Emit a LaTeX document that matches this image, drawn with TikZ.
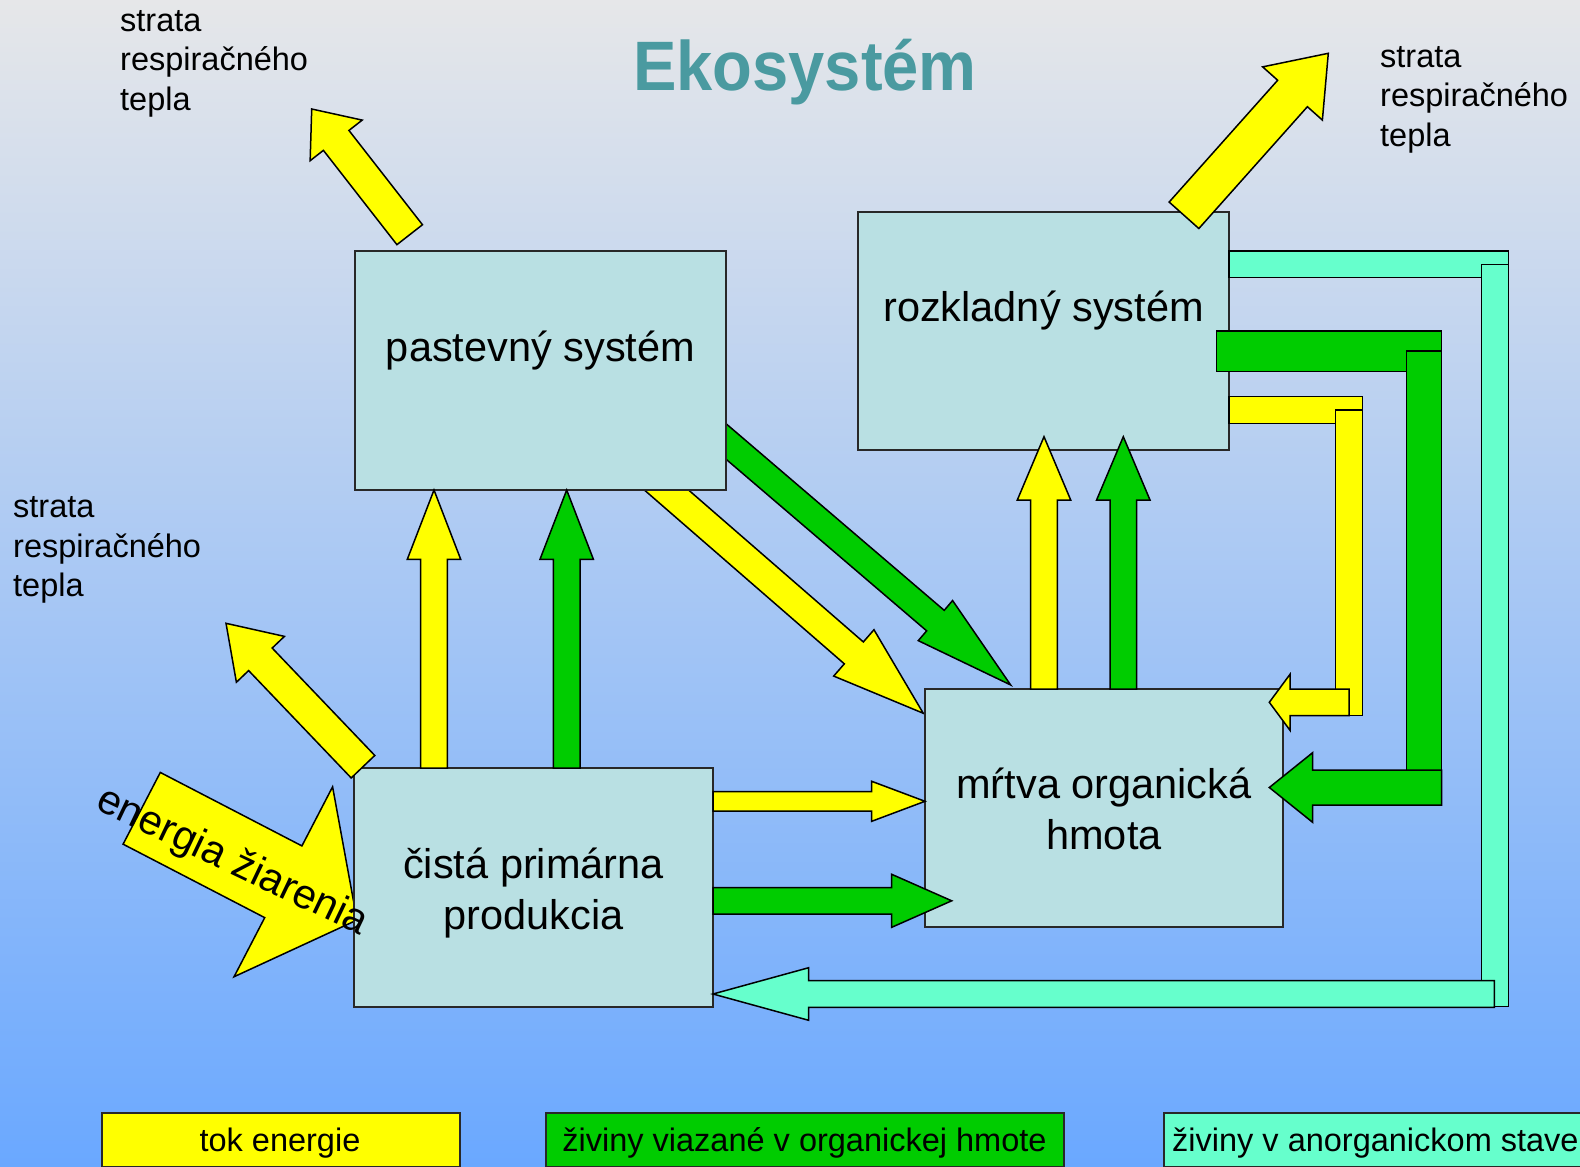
\documentclass[tikz,border=0pt]{standalone}
\usepackage{fontspec}
\setmainfont{Liberation Sans}
\usetikzlibrary{calc}
\definecolor{boxfill}{RGB}{185,224,227}
\definecolor{yel}{RGB}{255,255,0}
\definecolor{grn}{RGB}{0,204,0}
\definecolor{cyn}{RGB}{102,255,204}
\definecolor{titlecol}{RGB}{74,154,160}
\definecolor{bgtop}{RGB}{230,231,233}
\definecolor{bgbot}{RGB}{106,168,255}
\definecolor{edge}{RGB}{40,40,40}

\newcommand\blockarrow[6]{%
  \path let \p1=#2, \p2=#3 in \pgfextra{%
    \pgfmathsetmacro\baA{atan2(\y2-\y1,\x2-\x1)}%
    \pgfmathsetmacro\baL{veclen(\x2-\x1,\y2-\y1)}%
    \xdef\baang{\baA}\xdef\balen{\baL}\xdef\bax{\x1}\xdef\bay{\y1}};
  \draw[#1,shift={(\bax,\bay)},rotate=\baang]
    (0,-#4) -- (\balen-#6,-#4) -- (\balen-#6,-#5) -- (\balen,0)
    -- (\balen-#6,#5) -- (\balen-#6,#4) -- (0,#4) -- cycle;}

\tikzset{
  box/.style={draw=edge,fill=boxfill,line width=1.5,inner sep=0,outer sep=0},
  boxtxt/.style={font=\fontsize{41.5}{51}\selectfont,align=center,inner sep=0},
  lbl/.style={font=\fontsize{32.5}{39.3}\selectfont,align=left,inner sep=0,anchor=base west},
  yarrow/.style={draw=black,fill=yel,line width=1.5,line join=miter},
  garrow/.style={draw=black,fill=grn,line width=1.5,line join=miter},
  carrow/.style={draw=black,fill=cyn,line width=1.5,line join=miter},
  legbox/.style={draw=edge,line width=2,inner sep=0,outer sep=0,anchor=north west,minimum height=54},
  legtxt/.style={font=\fontsize{32.5}{39}\selectfont,inner sep=0}
}

\begin{document}
\begin{tikzpicture}[x=1pt,y=-1pt]
\useasboundingbox (0,0) rectangle (1580,1167);
\clip (0,0) rectangle (1580,1167);
\shade[top color=bgtop,bottom color=bgbot] (0,0) rectangle (1580,1167);

% diagonal arrows (under the grazing box)
\blockarrow{yarrow}{(640,467)}{(923.3,713.3)}{14.5}{30.7}{92}
\blockarrow{garrow}{(715,432)}{(1010.7,685)}{13.5}{26.4}{99}

% radiation energy arrow (under production box)
\blockarrow{yarrow}{(141.7,808.3)}{(357,920)}{40.4}{107}{83}

% boxes
\node[box,minimum width=371,minimum height=239] (past) at (540.5,370.5) {};
\node[box,minimum width=371,minimum height=238] (rozk) at (1043.5,331) {};
\node[box,minimum width=359,minimum height=239] (prod) at (533.5,887.5) {};
\node[box,minimum width=358,minimum height=238] (mrtva) at (1104,808) {};

\node[boxtxt,anchor=base] (pastT) at (540.5,361) {pastevný systém};
\node[boxtxt,anchor=base] (rozkT) at (1043.5,321) {rozkladný systém};
\node[boxtxt] (prodT) at (533.5,893) {čistá primárna\\produkcia};
\node[boxtxt] (mrtvaT) at (1104,809) {mŕtva organická\\hmota};

% up arrows production -> grazing
\coordinate (upY) at ($(prod.north west)+(80,0)$);
\coordinate (upG) at ($(prod.north west)+(212.7,0)$);
\blockarrow{yarrow}{(upY)}{(upY |- past.south)}{13.3}{26.7}{69.3}
\blockarrow{garrow}{(upG)}{(upG |- past.south)}{13.3}{26.7}{69.3}

% up arrows dead matter -> decomposition
\coordinate (upY2) at ($(mrtva.north west)+(119,0)$);
\coordinate (upG2) at ($(mrtva.north west)+(198.3,0)$);
\blockarrow{yarrow}{(upY2)}{($(upY2 |- rozk.south)+(0,-13.3)$)}{13.3}{26.7}{63.3}
\blockarrow{garrow}{(upG2)}{($(upG2 |- rozk.south)+(0,-13.3)$)}{13.3}{26.7}{63.3}

% horizontal arrows production -> dead matter
\coordinate (hY) at ($(prod.north east)+(0,33.3)$);
\coordinate (hG) at ($(prod.north east)+(0,132.8)$);
\blockarrow{yarrow}{(hY)}{(hY -| mrtva.west)}{9.7}{20}{53.3}
\blockarrow{garrow}{(hG)}{($(hG -| mrtva.west)+(26.7,0)$)}{13.2}{26.5}{60}

% cyan return
\draw[carrow] (1229,251) rectangle (1508.3,277.7);
\draw[carrow] (1481.7,264.3) rectangle (1508.3,1006.7);
\coordinate (cT) at (1494.3,994);
\blockarrow{carrow}{(cT)}{(cT -| prod.east)}{13.3}{26.3}{95.7}

% green return
\draw[garrow] (1216.7,331) rectangle (1441.7,371.7);
\draw[garrow] (1406.7,351) rectangle (1441.7,790);
\coordinate (gT) at (1441.7,787.5);
\blockarrow{garrow}{(gT)}{($(gT -| mrtva.east)+(-13.7,0)$)}{17.5}{34.8}{43.3}

% yellow return
\draw[yarrow] (1229,396.7) rectangle (1362.3,423.3);
\draw[yarrow] (1335.7,410) rectangle (1362.3,715.7);
\coordinate (yT) at (1349,702.3);
\blockarrow{yarrow}{(yT)}{($(yT -| mrtva.east)+(-13.7,0)$)}{13.3}{28}{20.7}

% respiration heat loss arrows
\blockarrow{yarrow}{(409.7,234.7)}{(311.7,109)}{16.2}{33}{39.8}
\blockarrow{yarrow}{(1184,215.3)}{(1328.3,53.3)}{19.9}{40}{53.8}
\blockarrow{yarrow}{(363,766.7)}{(226,623.3)}{16.3}{33.2}{49.8}

% radiation text
\node[font=\fontsize{41.5}{50}\selectfont,rotate=-25.5,inner sep=0] (energT) at (232,862.5) {energia žiarenia};

% labels (anchor = baseline of the last line)
\node[lbl] (lblTL) at (120,110) {strata\\respiračného\\tepla};
\node[lbl] (lblTR) at (1380,146) {strata\\respiračného\\tepla};
\node[lbl] (lblL) at (13,596.4) {strata\\respiračného\\tepla};

% title
\node[font=\bfseries\fontsize{70}{84}\selectfont,text=titlecol,anchor=base,inner sep=0] (title) at (805,90.7) {\scalebox{0.93}[1]{Ekosystém}};

% legend
\node[legbox,fill=yel,minimum width=358] (legY) at (102,1112.7) {};
\node[legbox,fill=grn,minimum width=518] (legG) at (546,1112.7) {};
\node[legbox,fill=cyn,minimum width=440] (legC) at (1164,1112.7) {};
\node[legtxt,anchor=base] (legYT) at (280,1151.5) {tok energie};
\node[legtxt,anchor=base] (legGT) at (804.5,1151.5) {živiny viazané v organickej hmote};
\node[legtxt,anchor=base west] (legCT) at (1172,1151.5) {živiny v anorganickom stave};
\end{tikzpicture}
\end{document}
